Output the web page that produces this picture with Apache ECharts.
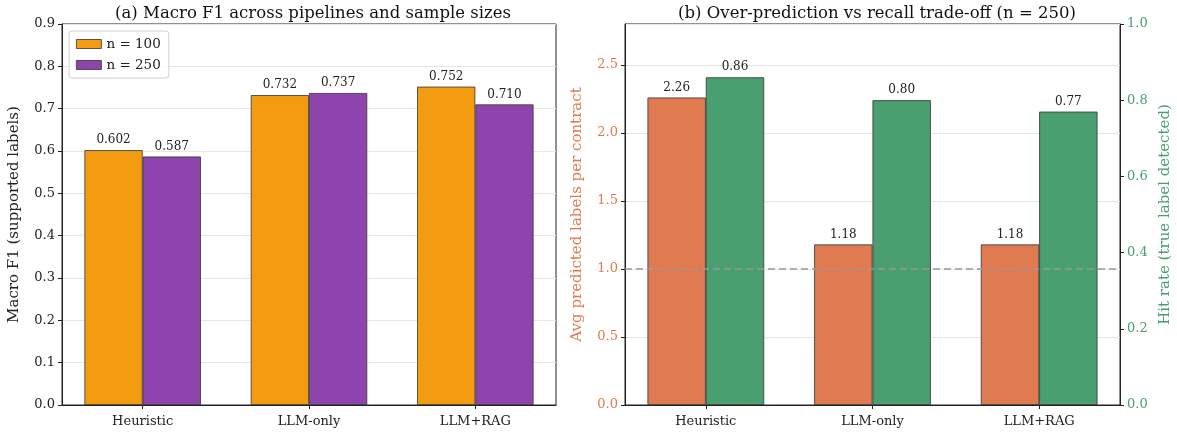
<!DOCTYPE html>
<html>
<head>
<meta charset="utf-8">
<script src="https://cdn.jsdelivr.net/npm/echarts@6/dist/echarts.min.js"></script>
<style>html,body{margin:0;padding:0;background:#fff}#c{width:1177px;height:433px}</style>
</head>
<body>
<div id="c"></div>
<script>
const categories = ['Heuristic', 'LLM-only', 'LLM+RAG'];
const f1_n100 = [0.602, 0.732, 0.752];
const f1_n250 = [0.587, 0.737, 0.710];
const avgPredicted = [2.26, 1.18, 1.18];
const hitRate = [0.86, 0.80, 0.77];
const referenceLine = 1.0;

const FONT = 'DejaVu Serif';
const C_ORANGE = '#F39C12', C_PURPLE = '#8E44AD', C_CORAL = '#E07A50', C_GREEN = '#4A9F70';
const chart = echarts.init(document.getElementById('c'), null, {renderer: 'canvas'});

const idx = categories.map((_, i) => i);
const pairs = (vals) => vals.map((v, i) => [idx[i], v]);

const tickLabel = (c) => ({fontFamily: FONT, fontSize: 13, color: c || '#222'});
const barLabel = (d) => ({show: true, position: 'top', distance: 4, fontFamily: FONT, fontSize: 12, color: '#222',
  formatter: p => p.value[1].toFixed(d)});
const itemStyle = (c) => ({color: c, borderColor: '#333', borderWidth: 0.8});
const axLine = {show: true, onZero: false, lineStyle: {color: '#222'}};

const xAxisFor = (g) => ({
  type: 'value', gridIndex: g, min: -0.485, max: 2.485,
  axisLine: axLine,
  axisTick: {show: true, length: 4, customValues: idx, lineStyle: {color: '#222'}},
  axisLabel: Object.assign(tickLabel(), {margin: 10, customValues: idx, formatter: v => categories[Math.round(v)]}),
  splitLine: {show: false}
});

chart.setOption({
  animation: false,
  textStyle: {fontFamily: FONT},
  title: [
    {text: '(a) Macro F1 across pipelines and sample sizes', left: 308, top: 0, textAlign: 'center',
     textStyle: {fontFamily: FONT, fontSize: 16.5, fontWeight: 'normal', color: '#111'}},
    {text: '(b) Over-prediction vs recall trade-off (n = 250)', left: 872, top: 0, textAlign: 'center',
     textStyle: {fontFamily: FONT, fontSize: 16.5, fontWeight: 'normal', color: '#111'}}
  ],
  legend: {
    data: ['n = 100', 'n = 250'], orient: 'vertical', left: 69, top: 31,
    icon: 'rect',
    itemWidth: 25, itemHeight: 9, itemGap: 7, padding: [6, 8, 6, 7],
    backgroundColor: 'rgba(255,255,255,0.8)', borderColor: '#d0d0d0', borderWidth: 1, borderRadius: 3,
    textStyle: {fontFamily: FONT, fontSize: 13.5, color: '#222'},
    itemStyle: {borderColor: '#333', borderWidth: 0.8}
  },
  grid: [
    {left: 62, top: 24, width: 494, height: 381, show: true, borderColor: '#222', borderWidth: 1, containLabel: false},
    {left: 625, top: 24, width: 495, height: 381, show: true, borderColor: '#222', borderWidth: 1, containLabel: false}
  ],
  xAxis: [xAxisFor(0), xAxisFor(1)],
  yAxis: [
    {type: 'value', gridIndex: 0, min: 0, max: 0.9, interval: 0.1,
     name: 'Macro F1 (supported labels)', nameLocation: 'middle', nameGap: 40, nameRotate: 90,
     nameTextStyle: {fontFamily: FONT, fontSize: 15, color: '#222'},
     axisLine: axLine, axisTick: {show: true, length: 4, lineStyle: {color: '#222'}},
     axisLabel: Object.assign(tickLabel(), {formatter: v => v.toFixed(1), margin: 7}),
     splitLine: {show: true, lineStyle: {color: '#e6e6e6', width: 1}}},
    {type: 'value', gridIndex: 1, position: 'left', min: 0, max: 2.8, interval: 0.5,
     name: 'Avg predicted labels per contract', nameLocation: 'middle', nameGap: 40, nameRotate: 90,
     nameTextStyle: {fontFamily: FONT, fontSize: 15, color: C_CORAL},
     axisLine: axLine, axisTick: {show: true, length: 4, lineStyle: {color: '#222'}},
     axisLabel: Object.assign(tickLabel(C_CORAL), {formatter: v => v.toFixed(1), margin: 7, showMaxLabel: false}),
     splitLine: {show: true, lineStyle: {color: '#e6e6e6', width: 1}}},
    {type: 'value', gridIndex: 1, position: 'right', min: 0, max: 1.0, interval: 0.2,
     name: 'Hit rate (true label detected)', nameLocation: 'middle', nameGap: 38, nameRotate: 90,
     nameTextStyle: {fontFamily: FONT, fontSize: 15, color: C_GREEN},
     axisLine: axLine, axisTick: {show: true, length: 4, lineStyle: {color: '#222'}},
     axisLabel: Object.assign(tickLabel(C_GREEN), {formatter: v => v.toFixed(1), margin: 7}),
     splitLine: {show: false}}
  ],
  series: [
    {name: 'n = 100', type: 'bar', xAxisIndex: 0, yAxisIndex: 0, data: pairs(f1_n100), barWidth: '35%', barGap: '0%',
     itemStyle: itemStyle(C_ORANGE), label: barLabel(3)},
    {name: 'n = 250', type: 'bar', xAxisIndex: 0, yAxisIndex: 0, data: pairs(f1_n250), barWidth: '35%', barGap: '0%',
     itemStyle: itemStyle(C_PURPLE), label: barLabel(3)},
    {name: 'avg', type: 'bar', xAxisIndex: 1, yAxisIndex: 1, data: pairs(avgPredicted), barWidth: '35%', barGap: '0%',
     itemStyle: itemStyle(C_CORAL), label: barLabel(2),
     markLine: {silent: true, symbol: 'none', label: {show: false},
       lineStyle: {color: '#999', type: [7, 4], width: 1.6}, data: [{yAxis: referenceLine}]}},
    {name: 'hit', type: 'bar', xAxisIndex: 1, yAxisIndex: 2, data: pairs(hitRate), barWidth: '35%', barGap: '0%',
     itemStyle: itemStyle(C_GREEN), label: barLabel(2)}
  ]
});
</script>
</body>
</html>
